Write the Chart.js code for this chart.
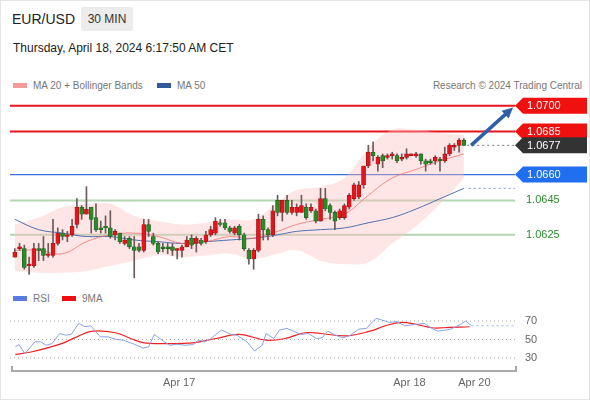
<!DOCTYPE html>
<html>
<head>
<meta charset="utf-8">
<script src="https://cdn.jsdelivr.net/npm/chart.js@4"></script>
<style>
  body { margin:0; width:590px; height:400px; background:#fff; font-family: "Liberation Sans", Arial, sans-serif; position:relative; overflow:hidden; }
  .frame { position:absolute; left:0; top:0; width:588px; height:398px; border:1px solid #e6e6e6; }
  .title { position:absolute; left:12px; top:11px; font-size:14px; color:#222; }
  .tf { position:absolute; left:81px; top:7px; width:52px; height:24px; background:#ececec; font-size:12px; color:#333; text-align:center; line-height:24px; border-radius:2px; }
  .date { position:absolute; left:13px; top:41px; font-size:12px; color:#222; }
  .leg { position:absolute; font-size:10px; color:#777; }
  .sw { display:inline-block; width:14px; height:5px; vertical-align:middle; margin-right:6px; position:relative; top:-1px; }
  canvas { position:absolute; left:0; }
</style>
</head>
<body>
<div class="frame"></div>
<div class="title">EUR/USD</div>
<div class="tf">30 MIN</div>
<div class="date">Thursday, April 18, 2024 6:17:50 AM CET</div>
<div class="leg" style="left:13px;top:80px"><span class="sw" style="background:#f59a9a"></span>MA 20 + Bollinger Bands</div>
<div class="leg" style="left:157px;top:80px"><span class="sw" style="background:#33599c"></span>MA 50</div>
<div class="leg" style="right:8px;top:80px">Research © 2024 Trading Central</div>
<div class="leg" style="left:13px;top:293px"><span class="sw" style="background:#5b7be0"></span>RSI</div>
<div class="leg" style="left:62px;top:293px"><span class="sw" style="background:#ee1111"></span>9MA</div>
<canvas id="priceChart" width="590" height="210" style="top:80px"></canvas>
<canvas id="rsiChart" width="590" height="110" style="top:290px"></canvas>
<script>
// candles (30 min)
const opens = [1.0612,1.0617,1.0617,1.0607,1.0607,1.0617,1.0617,1.0613,1.0613,1.0620,
  1.0626,1.0624,1.0625,1.0631,1.0641,1.0637,1.0641,1.0635,1.0629,1.0630,
  1.0629,1.0625,1.0626,1.0620,1.0623,1.0618,1.0618,1.0616,1.0631,1.0624,
  1.0620,1.0618,1.0618,1.0618,1.0616,1.0616,1.0618,1.0623,1.0620,1.0622,
  1.0621,1.0625,1.0626,1.0632,1.0632,1.0629,1.0626,1.0630,1.0625,1.0616,
  1.0611,1.0616,1.0634,1.0628,1.0625,1.0645,1.0638,1.0645,1.0638,1.0638,
  1.0638,1.0641,1.0639,1.0639,1.0633,1.0646,1.0642,1.0638,1.0635,1.0635,
  1.0641,1.0646,1.0647,1.0654,1.0665,1.0673,1.0666,1.0671,1.0670,1.0671,
  1.0671,1.0669,1.0670,1.0671,1.0671,1.0672,1.0668,1.0668,1.0668,1.0669,
  1.0668,1.0672,1.0676,1.0677,1.0680];
const closes = [1.0615,1.0618,1.0606,1.0608,1.0617,1.0616,1.0613,1.0614,1.0620,1.0626,
  1.0624,1.0625,1.0630,1.0641,1.0637,1.0640,1.0634,1.0628,1.0628,1.0629,
  1.0624,1.0627,1.0621,1.0622,1.0618,1.0616,1.0616,1.0631,1.0627,1.0620,
  1.0615,1.0617,1.0617,1.0616,1.0617,1.0618,1.0622,1.0619,1.0623,1.0620,
  1.0625,1.0628,1.0633,1.0631,1.0629,1.0627,1.0629,1.0625,1.0617,1.0611,
  1.0616,1.0634,1.0628,1.0625,1.0639,1.0638,1.0645,1.0638,1.0641,1.0641,
  1.0642,1.0635,1.0641,1.0633,1.0646,1.0640,1.0638,1.0633,1.0639,1.0642,
  1.0648,1.0654,1.0654,1.0665,1.0673,1.0671,1.0670,1.0668,1.0671,1.0672,
  1.0668,1.0670,1.0672,1.0672,1.0672,1.0668,1.0666,1.0667,1.0670,1.0668,
  1.0672,1.0677,1.0677,1.0680,1.0677];
const highs = [1.0617,1.0620,1.0619,1.0612,1.0620,1.0620,1.0624,1.0620,1.0634,1.0629,
  1.0628,1.0627,1.0634,1.0646,1.0642,1.0653,1.0641,1.0643,1.0633,1.0636,
  1.0639,1.0628,1.0626,1.0624,1.0624,1.0624,1.0620,1.0634,1.0634,1.0626,
  1.0621,1.0620,1.0620,1.0620,1.0617,1.0619,1.0624,1.0625,1.0624,1.0623,
  1.0627,1.0630,1.0635,1.0634,1.0634,1.0630,1.0630,1.0631,1.0626,1.0617,
  1.0617,1.0637,1.0636,1.0629,1.0642,1.0648,1.0645,1.0648,1.0645,1.0643,
  1.0648,1.0643,1.0643,1.0640,1.0652,1.0652,1.0643,1.0639,1.0640,1.0643,
  1.0649,1.0655,1.0656,1.0665,1.0677,1.0679,1.0671,1.0672,1.0672,1.0673,
  1.0672,1.0672,1.0675,1.0672,1.0673,1.0672,1.0669,1.0669,1.0671,1.0670,
  1.0676,1.0678,1.0678,1.0681,1.0681];
const lows = [1.0612,1.0616,1.0605,1.0602,1.0606,1.0610,1.0610,1.0612,1.0612,1.0619,
  1.0622,1.0621,1.0624,1.0629,1.0634,1.0637,1.0626,1.0627,1.0626,1.0626,
  1.0623,1.0622,1.0620,1.0619,1.0617,1.0600,1.0615,1.0615,1.0624,1.0619,
  1.0614,1.0615,1.0614,1.0613,1.0611,1.0612,1.0618,1.0617,1.0615,1.0619,
  1.0620,1.0624,1.0625,1.0630,1.0628,1.0626,1.0625,1.0622,1.0616,1.0608,
  1.0605,1.0615,1.0622,1.0622,1.0624,1.0636,1.0633,1.0637,1.0637,1.0636,
  1.0638,1.0634,1.0638,1.0632,1.0633,1.0639,1.0634,1.0628,1.0634,1.0634,
  1.0640,1.0645,1.0646,1.0652,1.0664,1.0668,1.0662,1.0664,1.0669,1.0669,
  1.0667,1.0668,1.0669,1.0671,1.0670,1.0666,1.0662,1.0666,1.0666,1.0662,
  1.0667,1.0671,1.0674,1.0673,1.0677];

// indicators, read at every few candles
const maIdx = [0,5,10,15,20,25,30,35,40,45,50,55,59,64,69,74,79,84,89,94];
const ma50 = [1.0634,1.0628,1.0626,1.0624,1.0624,1.0622,1.0621,1.0620,1.0621,1.0622,1.0623,1.0625,1.0627,1.0628,1.0629,1.0632,1.0635,1.0640,1.0646,1.0652];
const ma20 = [1.0616,1.0616,1.0614,1.0621,1.0625,1.0626,1.0624,1.0620,1.0621,1.0624,1.0623,1.0627,1.0631,1.0634,1.0637,1.0648,1.0658,1.0663,1.0668,1.0672];
const bbUpper = [1.0631,1.0635,1.0641,1.0643,1.0643,1.0636,1.0633,1.0631,1.0632,1.0634,1.0634,1.0644,1.0651,1.0653,1.0658,1.0675,1.0686,1.0686,1.0684,1.0683];
const bbLower = [1.0604,1.0603,1.0603,1.0604,1.0607,1.0610,1.0613,1.0612,1.0613,1.0614,1.0611,1.0614,1.0616,1.0610,1.0608,1.0609,1.0620,1.0630,1.0643,1.0658];

// levels
const resistLevels = [1.0700, 1.0685];
const pivotLevel = 1.0660;
const supportLevels = [1.0645, 1.0625];
const lastPrice = 1.0677;
const arrowFrom = [95.5, 1.0677];
const arrowTo = [104.3, 1.0699];

// RSI panel
const rsiIdx = [0.1,0.9,2.1,4.2,5.4,6.6,7.8,9.4,10.6,11.8,13.4,14.7,15.9,17.9,19.5,21.1,22.7,24.7,26.8,28.0,29.2,30.8,32.4,34.0,35.6,37.3,38.5,39.7,40.9,42.1,43.3,45.3,46.5,48.6,50.2,51.8,52.6,54.2,55.4,57.0,58.6,59.9,61.5,63.1,64.3,65.5,67.1,68.7,70.3,72.0,73.6,75.6,76.8,78.4,80.0,81.6,84.1,85.7,87.3,88.5,90.1,91.3,93.3,94.4,95.6];
const rsiValues = [42.0,44.5,34.7,47.5,47.5,43.8,45.6,56.5,54.7,55.5,67.5,63.8,64.9,52.9,52.9,50.4,49.3,45.6,40.9,42.0,55.5,49.3,43.8,44.9,43.8,44.5,49.3,47.5,50.4,55.5,60.2,55.5,54.7,47.5,37.6,43.8,56.5,51.1,60.2,62.0,58.4,55.5,56.5,51.1,51.8,59.1,54.7,51.8,54.7,61.3,62.0,72.9,71.1,68.5,69.3,64.9,66.4,67.5,62.0,59.1,60.2,61.3,66.4,70.0,64.9];
const rsiMaIdx = [0.1,3.4,9.8,13.0,16.3,21.1,24.3,26.8,31.6,37.3,42.1,46.9,52.6,56.6,60.7,63.9,69.5,74.4,77.6,80.8,84.1,87.3,89.7,95.2];
const rsiMa = [34.0,36.5,45.6,52.9,59.1,57.3,51.1,46.7,45.6,46.4,51.1,55.5,49.3,51.1,57.3,56.5,54.0,59.1,64.9,68.5,66.4,62.7,62.7,63.8];
const rsiLevels = [70, 50, 30];
const tickPos = [34.4, 82.6, 96.2];
const tickLabels = ["Apr 17", "Apr 18", "Apr 20"];

const X_MIN = -1, X_MAX = 104.7;
const UP = "#e5141c", DOWN = "#2a8a2a";

const pts = (xs, ys) => xs.map((x, i) => ({ x: x, y: ys[i] }));
const candleColor = opens.map((o, i) => closes[i] >= opens[i] ? UP : DOWN);
const candleBorder = opens.map((o, i) => closes[i] >= opens[i] ? "#a01010" : "#1c5e1c");

function labelBox(ctx, y, text, bg) {
  const x0 = 515, x1 = 587, h = 16;
  ctx.fillStyle = bg;
  ctx.beginPath();
  ctx.moveTo(x0, y);
  ctx.lineTo(x0 + 8, y - h / 2);
  ctx.lineTo(x1, y - h / 2);
  ctx.lineTo(x1, y + h / 2);
  ctx.lineTo(x0 + 8, y + h / 2);
  ctx.closePath();
  ctx.fill();
  ctx.fillStyle = "#fff";
  ctx.font = "11px 'Liberation Sans', Arial";
  ctx.textBaseline = "middle";
  ctx.fillText(text, 527, y + 0.5);
}

const levelsPlugin = {
  id: "levels",
  beforeDatasetsDraw(chart) {
    const { ctx, scales: { x, y }, chartArea: a } = chart;
    ctx.save();
    const hline = (v, color, w) => {
      ctx.strokeStyle = color; ctx.lineWidth = w;
      ctx.beginPath(); ctx.moveTo(a.left, y.getPixelForValue(v)); ctx.lineTo(a.right, y.getPixelForValue(v)); ctx.stroke();
    };
    supportLevels.forEach(v => hline(v, "rgba(120,180,120,0.55)", 2));
    hline(pivotLevel, "#3a6fd8", 1.3);
    resistLevels.forEach(v => hline(v, "#e8141b", 2));
    ctx.setLineDash([2, 3]);
    ctx.strokeStyle = "#777"; ctx.lineWidth = 1;
    const yl = y.getPixelForValue(lastPrice);
    ctx.beginPath(); ctx.moveTo(x.getPixelForValue(opens.length - 0.3), yl); ctx.lineTo(a.right, yl); ctx.stroke();
    ctx.strokeStyle = "#7a9be0";
    const ym = y.getPixelForValue(ma50[ma50.length - 1]);
    ctx.beginPath(); ctx.moveTo(x.getPixelForValue(maIdx[maIdx.length - 1] + 1), ym); ctx.lineTo(a.right, ym); ctx.stroke();
    ctx.restore();
  },
  afterDraw(chart) {
    const { ctx, scales: { x, y } } = chart;
    ctx.save();
    labelBox(ctx, y.getPixelForValue(resistLevels[0]), resistLevels[0].toFixed(4), "#f01010");
    labelBox(ctx, y.getPixelForValue(resistLevels[1]), resistLevels[1].toFixed(4), "#f01010");
    labelBox(ctx, y.getPixelForValue(lastPrice), lastPrice.toFixed(4), "#333");
    labelBox(ctx, y.getPixelForValue(pivotLevel), pivotLevel.toFixed(4), "#1f6ff0");
    ctx.fillStyle = "#2e8b2e";
    ctx.font = "11px 'Liberation Sans', Arial";
    ctx.textBaseline = "middle";
    supportLevels.forEach(v => ctx.fillText(v.toFixed(4), 526, y.getPixelForValue(v)));
    // arrow
    const x0 = x.getPixelForValue(arrowFrom[0]), y0 = y.getPixelForValue(arrowFrom[1]);
    const x1 = x.getPixelForValue(arrowTo[0]), y1 = y.getPixelForValue(arrowTo[1]);
    const ang = Math.atan2(y1 - y0, x1 - x0);
    ctx.strokeStyle = "#2f5fa8"; ctx.fillStyle = "#2f5fa8"; ctx.lineWidth = 3.5;
    ctx.beginPath(); ctx.moveTo(x0, y0); ctx.lineTo(x1 - 7 * Math.cos(ang), y1 - 7 * Math.sin(ang)); ctx.stroke();
    ctx.beginPath();
    ctx.moveTo(x1, y1);
    ctx.lineTo(x1 - 12 * Math.cos(ang - 0.45), y1 - 12 * Math.sin(ang - 0.45));
    ctx.lineTo(x1 - 12 * Math.cos(ang + 0.45), y1 - 12 * Math.sin(ang + 0.45));
    ctx.closePath(); ctx.fill();
    ctx.restore();
  }
};

new Chart(document.getElementById("priceChart"), {
  data: {
    datasets: [
      { type: "line", data: pts(maIdx, bbUpper), borderWidth: 0, pointRadius: 0, tension: 0.4, fill: "+1", backgroundColor: "rgba(255,190,190,0.38)", order: 10 },
      { type: "line", data: pts(maIdx, bbLower), borderWidth: 0, pointRadius: 0, tension: 0.4, fill: false, order: 10 },
      { type: "line", data: pts(maIdx, ma20), borderColor: "rgba(240,110,110,0.75)", borderWidth: 1, pointRadius: 0, tension: 0.4, order: 5 },
      { type: "line", data: pts(maIdx, ma50), borderColor: "#4d6fb0", borderWidth: 1, pointRadius: 0, tension: 0.4, order: 5 },
      { type: "bar", data: opens.map((o, i) => ({ x: i, y: [lows[i], highs[i]] })), backgroundColor: "#6d5a5a", barThickness: 1, grouped: false, order: 2 },
      { type: "bar", data: opens.map((o, i) => ({ x: i, y: [Math.min(o, closes[i]), Math.max(o, closes[i]) + (o === closes[i] ? 0.00005 : 0)] })),
        backgroundColor: candleColor, borderColor: candleBorder, borderWidth: 0.6, borderSkipped: false, barThickness: 4, grouped: false, order: 1 }
    ]
  },
  options: {
    responsive: false, animation: false,
    layout: { padding: { left: 10, right: 75, top: 12, bottom: 7 } },
    plugins: { legend: { display: false }, tooltip: { enabled: false } },
    scales: {
      x: { type: "linear", min: X_MIN, max: X_MAX, offset: false, bounds: "ticks", display: false },
      y: { min: 1.0597, max: 1.0708, display: false }
    }
  },
  plugins: [levelsPlugin]
});

const rsiPlugin = {
  id: "rsiDeco",
  beforeDatasetsDraw(chart) {
    const { ctx, scales: { y }, chartArea: a } = chart;
    ctx.save();
    ctx.setLineDash([1, 3]); ctx.strokeStyle = "#aaa"; ctx.lineWidth = 1;
    ctx.fillStyle = "#666"; ctx.font = "11px 'Liberation Sans', Arial"; ctx.textBaseline = "middle";
    rsiLevels.forEach(v => {
      const py = y.getPixelForValue(v);
      ctx.beginPath(); ctx.moveTo(a.left, py); ctx.lineTo(a.right, py); ctx.stroke();
      ctx.fillText(String(v), 525, py);
    });
    ctx.restore();
  },
  afterDraw(chart) {
    const { ctx, scales: { x } } = chart;
    ctx.save();
    const ay = 81;
    ctx.strokeStyle = "#aaa"; ctx.lineWidth = 2;
    ctx.beginPath(); ctx.moveTo(12, ay - 5); ctx.lineTo(12, ay); ctx.lineTo(516, ay); ctx.lineTo(516, ay - 5); ctx.stroke();
    ctx.fillStyle = "#666"; ctx.font = "11px 'Liberation Sans', Arial"; ctx.textAlign = "center"; ctx.textBaseline = "middle";
    tickPos.forEach((p, i) => ctx.fillText(tickLabels[i], x.getPixelForValue(p), 93));
    ctx.restore();
  }
};

new Chart(document.getElementById("rsiChart"), {
  data: {
    datasets: [
      { type: "line", data: pts(rsiIdx, rsiValues), borderColor: "#8aa2ea", borderWidth: 1, pointRadius: 0, tension: 0 },
      { type: "line", data: [{ x: rsiIdx[rsiIdx.length - 1], y: rsiValues[rsiValues.length - 1] }, { x: X_MAX + 1, y: rsiValues[rsiValues.length - 1] }],
        borderColor: "#9fb3ee", borderWidth: 1, borderDash: [2, 3], pointRadius: 0 },
      { type: "line", data: pts(rsiMaIdx, rsiMa), borderColor: "#ee2222", borderWidth: 1.2, pointRadius: 0, tension: 0.4 }
    ]
  },
  options: {
    responsive: false, animation: false,
    layout: { padding: { left: 10, right: 75, top: 15, bottom: 34 } },
    plugins: { legend: { display: false }, tooltip: { enabled: false } },
    scales: {
      x: { type: "linear", min: X_MIN, max: X_MAX, display: false },
      y: { min: 21.4, max: 87.3, display: false }
    }
  },
  plugins: [rsiPlugin]
});
</script>
</body>
</html>
